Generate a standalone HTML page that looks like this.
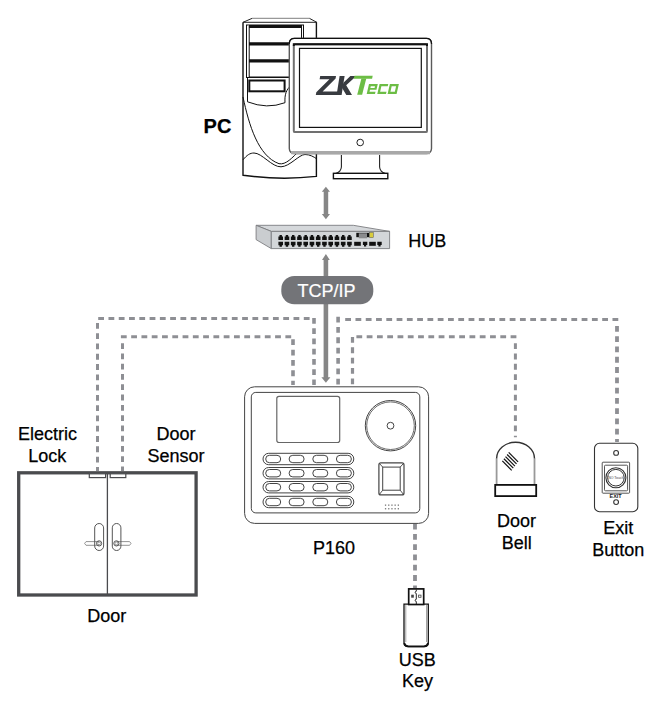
<!DOCTYPE html>
<html><head><meta charset="utf-8">
<style>
html,body{margin:0;padding:0;background:#fff;}
body{width:660px;height:703px;overflow:hidden;position:relative;}
svg{position:absolute;left:0;top:0;}
text{font-family:"Liberation Sans",sans-serif;}
.t{fill:#000;stroke:#000;stroke-width:0.25;}
</style></head>
<body>
<svg width="660" height="703" viewBox="0 0 660 703">
<rect x="0" y="0" width="660" height="703" fill="#fff"/>

<!-- ========== DASHED LINES ========== -->
<g fill="none" stroke="#8e8f94" stroke-dasharray="5.8 4.48">
  <path stroke-width="3" d="M98.2,318.5 H310"/>
  <path stroke-width="3.6" d="M314,317.9 V385"/>
  <path stroke-width="3" d="M97.5,323 V471"/>
  <path stroke-width="3" d="M120.9,336.8 H293"/>
  <path stroke-width="3.6" d="M293,339.3 V385" stroke-dasharray="5.8 4.55"/>
  <path stroke-width="3" d="M122.5,343.2 V471"/>
  <path stroke-width="3.6" d="M338.1,316.65 V385" stroke-dasharray="5.8 4.55"/>
  <path stroke-width="3" d="M345.2,319.5 H619"/>
  <path stroke-width="3.8" d="M617,326 V442"/>
  <path stroke-width="3.2" d="M352.5,337 V385" stroke-dasharray="5.8 4.55"/>
  <path stroke-width="3" d="M356.4,336.8 H517"/>
  <path stroke-width="3" d="M515.4,343.3 V437.2"/>
  <path stroke-width="3.8" d="M415,523.7 V588"/>
</g>

<!-- ========== TOWER PC ========== -->
<g id="tower" fill="none" stroke="#111" stroke-width="1">
  <path d="M243,22.3 L252,18.4 L309.5,18.4 L316.8,22.3 Z" fill="#fff" stroke="none"/><path d="M252,18.4 H309.5" stroke="#999" stroke-width="1.2"/><path d="M243,22.3 L252,18.4 M309.5,18.4 L316.8,22.3 M243,22.3 H316.8" stroke="#222"/>
  <path d="M243,22.3 V175.2 Q280,180.5 316.4,176.4 V22.3" stroke-width="1.4"/>
  <rect x="246.5" y="25" width="57" height="52.5"/>
  <rect x="249.2" y="26.5" width="52.3" height="50.5"/>
  <g stroke-width="3.2">
    <line x1="249" y1="26.5" x2="302" y2="26.5"/>
    <line x1="249" y1="43.9" x2="302" y2="43.9"/>
    <line x1="249" y1="60.9" x2="302" y2="60.9"/>
  </g>
  <rect x="249.3" y="80.5" width="35.3" height="10.8" stroke-width="2"/>
  <path d="M247.5,77.5 V101.8 Q267,109.5 285,102.7 C284.5,95 286,89 292,85"/>
  <path d="M243,97 C249,125 258,156 279,163.7 C286,165 292,158 300,150"/>
  <path d="M243,159.8 C247,155 250,153 254,153 C262,153 272,167.2 281,166.8 C290,166.5 299,154.5 305,154.5 C310,154.5 314,157 316.4,158.6"/>
</g>

<!-- ========== MONITOR ========== -->
<g id="monitor">
  <rect x="289.3" y="38.4" width="142.2" height="115.2" rx="5" fill="#fff" stroke="#5a5a5a" stroke-width="1.4"/>
  <path d="M289.3,44 V43.4 Q289.3,38.4 294.3,38.4 H426.5 Q431.5,38.4 431.5,43.4 V44" fill="none" stroke="#111" stroke-width="1.2"/>
  <path d="M291,152.6 H430" stroke="#a8a8a8" stroke-width="3.2"/>
  <rect x="293.8" y="44.3" width="133.2" height="87.8" rx="1.2" fill="#fff" stroke="#707070" stroke-width="2"/>
  <path d="M293.8,46 V44.3 H427 V46" fill="none" stroke="#111" stroke-width="2"/>
  <rect x="299.5" y="48.4" width="121.8" height="79" fill="#fff" stroke="#111" stroke-width="1.2"/>
  <circle cx="360.2" cy="142.5" r="3.3" fill="#fff" stroke="#222" stroke-width="1"/>
  <path d="M341.4,155 V167 Q341,172 335.6,173.5 M379.6,155 V167 Q380,172 385.4,173.5" fill="none" stroke="#222" stroke-width="1.1"/>
  <rect x="333.4" y="173.3" width="54.4" height="5.4" fill="#fff" stroke="#111" stroke-width="1.4"/>
  <!-- logo -->
  <polygon fill="#383b40" points="320.2,76 336,76 335.6,78.6 322.6,91.6 338.4,91.6 337.7,94.9 315.8,94.9 316.3,92.2 329.4,79.3 319.6,79.3"/>
  <polygon fill="#383b40" points="339.6,76 344.6,76 341.6,94.9 336.6,94.9"/>
  <polygon fill="#383b40" points="343.4,82.8 350.4,76 356.3,76 346.2,85.2 352,94.9 346.3,94.9 342,87.8"/>
  <polygon fill="#6cbd45" points="354.5,75.8 372.7,75.8 372.1,78.8 353.7,78.8"/>
  <polygon fill="#6cbd45" points="361.4,78.6 366.3,78.6 362.1,94.7 357.2,94.7"/>
  <g fill="#6cbd45" transform="translate(0,94) skewX(-13) translate(0,-94)">
    <path d="M366.7,84.1 H375.5 V89.8 H369 V91.7 H375 V94 H366.7 Z M369,86.3 V88 H373.2 V86.3 Z" fill-rule="evenodd"/>
    <path d="M377.3,84.1 H386 V86.3 H379.6 V91.7 H386 V94 H377.3 Z"/>
    <path d="M387.6,84.1 H396.6 V94 H387.6 Z M389.9,86.3 V91.7 H394.3 V86.3 Z" fill-rule="evenodd"/>
  </g>
</g>
<text class="t" x="203.6" y="132.7" font-size="20" font-weight="bold" >PC</text>

<!-- ========== ARROWS ========== -->
<g fill="#868686">
  <polygon points="325.9,186.8 330,191.8 328.2,191.8 328.2,214 330,214 325.9,219.2 321.8,214 323.7,214 323.7,191.8 321.8,191.8"/>
  <polygon points="325.9,254 329.8,260 328.2,260 328.2,278 323.6,278 323.6,260 322,260"/>
  <rect x="323.6" y="300" width="4.6" height="78"/>
  <polygon points="325.9,382.8 330.4,377.2 321.4,377.2"/>
</g>

<!-- ========== HUB ========== -->
<g id="hub" stroke="#7c7d80" stroke-width="0.9" stroke-linejoin="round">
  <polygon points="256.1,225.3 353.3,225.3 389.6,231.4 271.3,231.4" fill="#d5d8db"/>
  <polygon points="256.1,225.3 271.3,231.4 271.3,248.6 256.1,239.6" fill="#cacdd0"/>
  <rect x="271.3" y="231.4" width="118.3" height="17.2" fill="#d3d6d9"/>
</g>
<g id="ports" fill="#111"><path d="M278.40,240.1 V236.6 H279.50 V235.1 H281.90 V236.6 H283.00 V240.1 Z"/><path d="M278.40,241.8 V245.3 H279.50 V246.7 H281.90 V245.3 H283.00 V241.8 Z"/><path d="M284.65,240.1 V236.6 H285.75 V235.1 H288.15 V236.6 H289.25 V240.1 Z"/><path d="M284.65,241.8 V245.3 H285.75 V246.7 H288.15 V245.3 H289.25 V241.8 Z"/><path d="M290.90,240.1 V236.6 H292.00 V235.1 H294.40 V236.6 H295.50 V240.1 Z"/><path d="M290.90,241.8 V245.3 H292.00 V246.7 H294.40 V245.3 H295.50 V241.8 Z"/><path d="M297.15,240.1 V236.6 H298.25 V235.1 H300.65 V236.6 H301.75 V240.1 Z"/><path d="M297.15,241.8 V245.3 H298.25 V246.7 H300.65 V245.3 H301.75 V241.8 Z"/><path d="M303.40,240.1 V236.6 H304.50 V235.1 H306.90 V236.6 H308.00 V240.1 Z"/><path d="M303.40,241.8 V245.3 H304.50 V246.7 H306.90 V245.3 H308.00 V241.8 Z"/><path d="M309.65,240.1 V236.6 H310.75 V235.1 H313.15 V236.6 H314.25 V240.1 Z"/><path d="M309.65,241.8 V245.3 H310.75 V246.7 H313.15 V245.3 H314.25 V241.8 Z"/><path d="M315.90,240.1 V236.6 H317.00 V235.1 H319.40 V236.6 H320.50 V240.1 Z"/><path d="M315.90,241.8 V245.3 H317.00 V246.7 H319.40 V245.3 H320.50 V241.8 Z"/><path d="M322.15,240.1 V236.6 H323.25 V235.1 H325.65 V236.6 H326.75 V240.1 Z"/><path d="M322.15,241.8 V245.3 H323.25 V246.7 H325.65 V245.3 H326.75 V241.8 Z"/><path d="M328.40,240.1 V236.6 H329.50 V235.1 H331.90 V236.6 H333.00 V240.1 Z"/><path d="M328.40,241.8 V245.3 H329.50 V246.7 H331.90 V245.3 H333.00 V241.8 Z"/><path d="M334.65,240.1 V236.6 H335.75 V235.1 H338.15 V236.6 H339.25 V240.1 Z"/><path d="M334.65,241.8 V245.3 H335.75 V246.7 H338.15 V245.3 H339.25 V241.8 Z"/><path d="M340.90,240.1 V236.6 H342.00 V235.1 H344.40 V236.6 H345.50 V240.1 Z"/><path d="M340.90,241.8 V245.3 H342.00 V246.7 H344.40 V245.3 H345.50 V241.8 Z"/><path d="M347.15,240.1 V236.6 H348.25 V235.1 H350.65 V236.6 H351.75 V240.1 Z"/><path d="M347.15,241.8 V245.3 H348.25 V246.7 H350.65 V245.3 H351.75 V241.8 Z"/><path d="M362.90,241.8 V245.1 H364.00 V246.4 H366.20 V245.1 H367.30 V241.8 Z"/><path d="M377.30,241.8 V245.1 H378.40 V246.4 H380.60 V245.1 H381.70 V241.8 Z"/></g>
<g fill="#111">
  <rect x="356.3" y="232.8" width="13" height="4.4"/>
  <rect x="358.8" y="233.3" width="8.2" height="5" fill="#8a8b8d"/>
  <rect x="369.6" y="232.4" width="3.7" height="5.3" fill="#d9cc3c" stroke="#555" stroke-width="0.5"/>
  <rect x="354.2" y="241.8" width="6.6" height="4"/>
  <rect x="369.2" y="241.8" width="6.6" height="4"/>
</g>
<text class="t" x="408.3" y="246.8" font-size="18" >HUB</text>

<!-- ========== TCP/IP pill ========== -->
<rect x="281.3" y="276" width="92" height="28.2" rx="13" fill="#737478"/>
<text x="326.6" y="296.7" font-size="18" fill="#fff" stroke="#fff" stroke-width="0.2" text-anchor="middle">TCP/IP</text>

<!-- ========== P160 DEVICE ========== -->
<g id="device" fill="#fff" stroke="#444" stroke-width="1">
  <rect x="244.6" y="386.8" width="184" height="136.6" rx="10"/>
  <rect x="251.3" y="392.4" width="168.5" height="120.5" rx="4.5"/>
  <rect x="276.8" y="396.3" width="62.9" height="46.2" rx="2.2" stroke="#666" stroke-width="1.2"/>
  <circle cx="390.5" cy="425.7" r="25.2" stroke-width="1"/>
  <circle cx="390.5" cy="425.7" r="23.8" stroke-width="0.8"/>
  <circle cx="390.5" cy="425.7" r="3.4" stroke-width="1"/>
  <g id="keys"><rect x="263" y="453.3" width="90.8" height="11.4" rx="5.7"/><rect x="265.7" y="455.3" width="15" height="7.4" rx="3.7"/><rect x="289.1" y="455.3" width="15" height="7.4" rx="3.7"/><rect x="312.8" y="455.3" width="15" height="7.4" rx="3.7"/><rect x="336.4" y="455.3" width="15" height="7.4" rx="3.7"/><rect x="263" y="467.5" width="90.8" height="11.4" rx="5.7"/><rect x="265.7" y="469.5" width="15" height="7.4" rx="3.7"/><rect x="289.1" y="469.5" width="15" height="7.4" rx="3.7"/><rect x="312.8" y="469.5" width="15" height="7.4" rx="3.7"/><rect x="336.4" y="469.5" width="15" height="7.4" rx="3.7"/><rect x="263" y="481.5" width="90.8" height="11.4" rx="5.7"/><rect x="265.7" y="483.5" width="15" height="7.4" rx="3.7"/><rect x="289.1" y="483.5" width="15" height="7.4" rx="3.7"/><rect x="312.8" y="483.5" width="15" height="7.4" rx="3.7"/><rect x="336.4" y="483.5" width="15" height="7.4" rx="3.7"/><rect x="263" y="496.3" width="90.8" height="11.4" rx="5.7"/><rect x="265.7" y="498.3" width="15" height="7.4" rx="3.7"/><rect x="289.1" y="498.3" width="15" height="7.4" rx="3.7"/><rect x="312.8" y="498.3" width="15" height="7.4" rx="3.7"/><rect x="336.4" y="498.3" width="15" height="7.4" rx="3.7"/></g>
  <rect x="378.9" y="462.9" width="25.1" height="32" rx="2" stroke-width="1.2"/>
  <rect x="382.7" y="467.1" width="17.5" height="23.1" stroke-width="1"/>
  <path d="M379.5,463.5 L382.7,467.1 M403.4,463.5 L400.2,467.1 M379.5,494.3 L382.7,490.2 M403.4,494.3 L400.2,490.2" fill="none" stroke-width="0.9"/>
</g>
<g id="speaker" fill="#777"><rect x="384.9" y="504.5" width="1.3" height="1.3"/><rect x="388.1" y="504.5" width="1.3" height="1.3"/><rect x="391.3" y="504.5" width="1.3" height="1.3"/><rect x="394.5" y="504.5" width="1.3" height="1.3"/><rect x="397.7" y="504.5" width="1.3" height="1.3"/><rect x="384.9" y="508.1" width="1.3" height="1.3"/><rect x="388.1" y="508.1" width="1.3" height="1.3"/><rect x="391.3" y="508.1" width="1.3" height="1.3"/><rect x="394.5" y="508.1" width="1.3" height="1.3"/><rect x="397.7" y="508.1" width="1.3" height="1.3"/></g>
<text class="t" x="334" y="554.1" font-size="18"  text-anchor="middle">P160</text>

<!-- ========== USB KEY ========== -->
<g id="usb" fill="#fff" stroke="#111">
  <path d="M404,604.2 V642.5 Q404,646.6 408.1,646.6 H424.2 Q428.3,646.6 428.3,642.5 V604.2 Z" stroke-width="1.3"/>
  <path d="M404.2,643 Q405,646.2 408.5,646.4 H423.8 Q427.3,646.2 428.1,643" fill="none" stroke-width="1.8"/>
  <path d="M405.8,605 V642" fill="none" stroke="#999" stroke-width="0.9"/>
  <path d="M426.5,605 V642" fill="none" stroke="#999" stroke-width="0.9"/>
  <rect x="408.7" y="588.9" width="15" height="15.6" stroke-width="1.7"/>
  <path d="M416.3,589.5 V591.3 A1.1,1.1 0 0 0 416.3,593.5 V599.3 A1.1,1.1 0 0 0 416.3,601.5 V604" fill="none" stroke-width="0.9"/>
  <rect x="411.6" y="595.1" width="1.9" height="2.2" stroke="#444" stroke-width="0.8"/>
  <rect x="418.6" y="595.1" width="2.4" height="2.2" stroke="#444" stroke-width="0.8"/>
</g>
<text class="t" font-size="18"  text-anchor="middle"><tspan x="417.2" y="665.5">USB</tspan><tspan x="417.5" y="686.8">Key</tspan></text>

<!-- ========== DOOR BELL ========== -->
<g id="bell" fill="none">
  <path d="M496.6,484 V458.4" stroke="#999" stroke-width="1.8"/>
  <path d="M534.5,484 V458.4" stroke="#999" stroke-width="1.8"/>
  <path d="M496.6,458.6 A18.95,16.4 0 0 1 534.5,458.6" stroke="#333" stroke-width="1.4"/>
  <rect x="495.2" y="484.9" width="41" height="11.2" fill="#fff" stroke="#111" stroke-width="1.8"/>
  <g stroke="#111" stroke-width="1.2"><line x1="508.70" y1="452.40" x2="518.10" y2="461.80"/><line x1="507.10" y1="454.52" x2="516.50" y2="463.92"/><line x1="505.50" y1="456.65" x2="514.90" y2="466.05"/><line x1="503.90" y1="458.77" x2="513.30" y2="468.17"/><line x1="502.30" y1="460.90" x2="511.70" y2="470.30"/></g>
</g>
<text class="t" font-size="18"  text-anchor="middle"><tspan x="516.6" y="526.5">Door</tspan><tspan x="516.8" y="549">Bell</tspan></text>

<!-- ========== EXIT BUTTON ========== -->
<g id="exitbtn" fill="#fff" stroke="#333" stroke-width="1.1">
  <rect x="594.5" y="443.3" width="43.3" height="68.4" rx="5"/>
  <circle cx="616.1" cy="452.9" r="2.4"/>
  <circle cx="616.1" cy="502.1" r="2.4"/>
  <rect x="602.2" y="462.2" width="27.4" height="31" rx="0.8" stroke="#555" stroke-width="1"/>
  <rect x="604.5" y="465.2" width="23.1" height="25.6" rx="1" stroke="#555" stroke-width="1"/>
  <circle cx="615.9" cy="477.7" r="10" stroke-width="1.1"/>
  <circle cx="615.9" cy="477.7" r="8.3" stroke-width="1"/>
</g>
<g transform="translate(615.9,479) scale(0.25)"><text x="0" y="0" font-size="14" fill="#444" text-anchor="middle">NO Touch</text></g>
<g transform="translate(615.6,497.8) scale(0.25)"><text x="0" y="0" font-size="22" font-weight="bold" fill="#222" text-anchor="middle">EXIT</text></g>
<text class="t" font-size="18"  text-anchor="middle"><tspan x="618.3" y="533.6">Exit</tspan><tspan x="618.3" y="555.5">Button</tspan></text>

<!-- ========== DOOR ========== -->
<g id="door" fill="none" stroke="#4a4b4e">
  <rect x="18.7" y="472.8" width="177.4" height="122.2" stroke-width="3.3"/>
  <line x1="107.4" y1="474" x2="107.4" y2="594" stroke-width="1.3"/>
  <rect x="89.3" y="473.8" width="16.3" height="3.8" fill="#fff" stroke-width="1.2"/>
  <rect x="110.2" y="473.8" width="15.6" height="3.8" fill="#fff" stroke-width="1.2"/>
  <!-- handles -->
  <path d="M84.6,543.4 L86,541.6 H99 M84.6,543.4 L86,545.3 H99" stroke="#888" stroke-width="0.9"/>
  <rect x="94.7" y="523.5" width="8.9" height="27" rx="4.45" stroke="#555" stroke-width="1"/>
  <circle cx="99.1" cy="543.4" r="2.6" stroke="#555" stroke-width="1"/>
  <circle cx="99.1" cy="543.4" r="1.4" stroke="#777" stroke-width="0.7"/>
  <path d="M131,543.4 L129.6,541.6 H116.5 M131,543.4 L129.6,545.3 H116.5" stroke="#888" stroke-width="0.9"/>
  <rect x="112.3" y="523.5" width="8.6" height="27" rx="4.3" stroke="#555" stroke-width="1"/>
  <circle cx="116.4" cy="543.4" r="2.6" stroke="#555" stroke-width="1"/>
  <circle cx="116.4" cy="543.4" r="1.4" stroke="#777" stroke-width="0.7"/>
</g>
<text class="t" font-size="18"  text-anchor="middle"><tspan x="47.5" y="439.6">Electric</tspan><tspan x="47.2" y="461.8">Lock</tspan></text>
<text class="t" font-size="18"  text-anchor="middle"><tspan x="176" y="439.6">Door</tspan><tspan x="176" y="461.8">Sensor</tspan></text>
<text class="t" x="106.7" y="621.7" font-size="18"  text-anchor="middle">Door</text>

</svg>
</body></html>
